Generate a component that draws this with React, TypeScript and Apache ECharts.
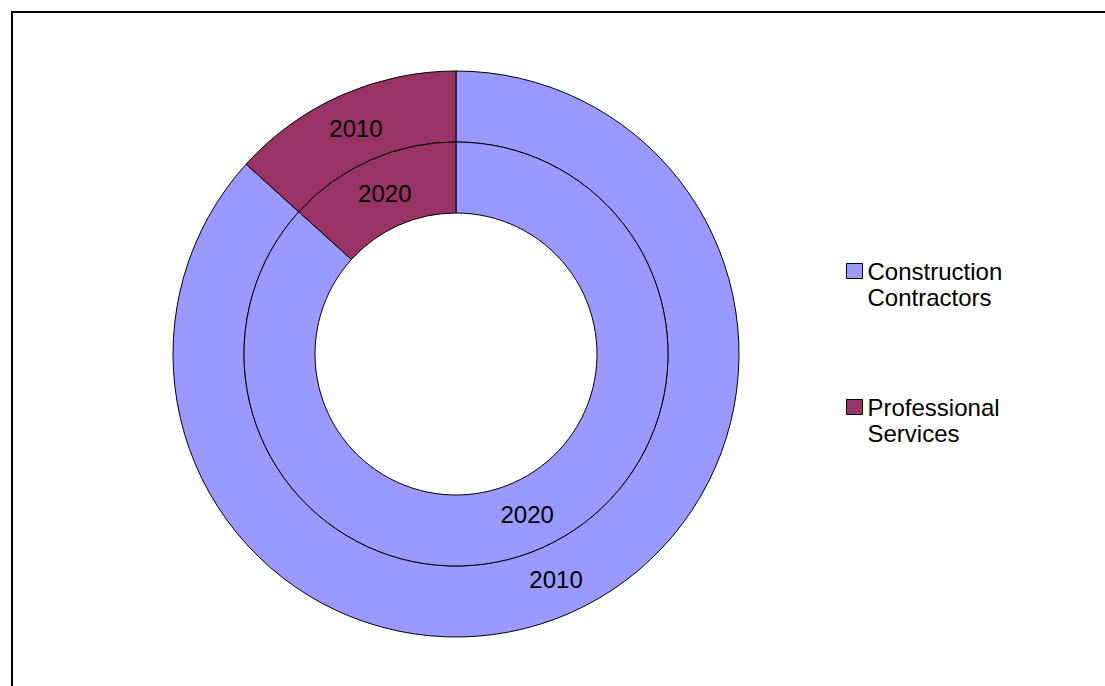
import React, { useEffect, useRef } from "react";
import * as echarts from "echarts";

const categories = ["Construction\nContractors", "Professional\nServices"];
const colors = ["#9999FF", "#993366"];
const values2010 = [86.7, 13.3];
const values2020 = [86.7, 13.3];
const seriesNames = ["2010", "2020"];

export default function App() {
  const ref = useRef<HTMLDivElement>(null);
  useEffect(() => {
    if (!ref.current) return;
    const chart = echarts.init(ref.current, undefined, { renderer: "svg" });
    const font = "'Liberation Sans', Arial, sans-serif";
    const cx = 456;
    const cy = 354;
    const mkData = (vals: number[]) =>
      vals.map((v, i) => ({ name: categories[i], value: v, itemStyle: { color: colors[i] } }));
    const common = {
      type: "pie",
      center: [cx, cy],
      startAngle: 90,
      clockwise: true,
      avoidLabelOverlap: false,
      itemStyle: { borderColor: "#000", borderWidth: 1 },
      label: {
        show: true,
        position: "inside",
        formatter: "{a}",
        color: "#000",
        fontSize: 24,
        fontFamily: font,
      },
      labelLine: { show: false },
      labelLayout: (p: any) => {
        const r = p.labelRect;
        const lx = r.x + r.width / 2;
        const ly = r.y + r.height / 2;
        const vx = lx - cx;
        const vy = ly - cy;
        const d = Math.hypot(vx, vy) || 1;
        return { dx: (-vx / d) * 4, dy: (-vy / d) * 4 };
      },
      emphasis: { disabled: true },
    };
    chart.setOption({
      animation: false,
      color: colors,
      graphic: [
        {
          type: "rect",
          shape: { x: 12, y: 12, width: 1300, height: 900 },
          style: { fill: "none", stroke: "#000", lineWidth: 2 },
          silent: true,
        },
      ],
      legend: {
        orient: "vertical",
        left: 846,
        top: 232,
        padding: 0,
        itemWidth: 16,
        itemHeight: 15,
        itemGap: 58,
        icon: "rect",
        itemStyle: { borderColor: "#000", borderWidth: 1 },
        selectedMode: false,
        formatter: (name: string) => " \n" + name,
        textStyle: {
          color: "#000",
          fontSize: 24,
          lineHeight: 26,
          fontFamily: font,
        },
        data: categories,
      },
      series: [
        { ...common, name: seriesNames[0], radius: [212, 283], data: mkData(values2010) },
        { ...common, name: seriesNames[1], radius: [141, 212], data: mkData(values2020) },
      ],
    });
    return () => chart.dispose();
  }, []);
  return (
    <div
      ref={ref}
      style={{ position: "fixed", left: 0, top: 0, width: 1105, height: 686, background: "#fff" }}
    />
  );
}
